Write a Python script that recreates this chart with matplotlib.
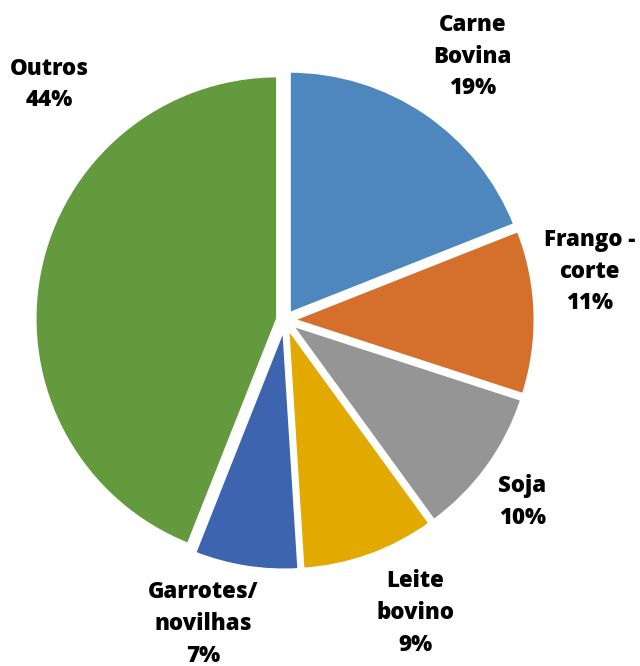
import numpy as np
import matplotlib
matplotlib.use('Agg')
import matplotlib.pyplot as plt

# DATA
categories = ['Carne\nBovina', 'Frango -\ncorte', 'Soja', 'Leite\nbovino', 'Garrotes/\nnovilhas', 'Outros']
shares = [19, 11, 10, 9, 7, 44]
colors = ['#4E87BE', '#D4702C', '#959595', '#E2A900', '#3D64AE', '#649A3E']

# label placement (angle in degrees, distance in radii) - picked by eye
label_angle = [54.5, 9.0, -37.5, -66, -105, 135]
label_dist = [1.33, 1.27, 1.23, 1.32, 1.295, 1.37]

fig = plt.figure(figsize=(6.4, 6.66), dpi=100)
ax = fig.add_axes([0, 0, 1, 1])

wedges, _ = ax.pie(shares, colors=colors, startangle=90, counterclock=False,
                   explode=[0.03] * len(shares), radius=1.0,
                   wedgeprops=dict(edgecolor='white', linewidth=2.5))

for lab, val, ang, d in zip(categories, shares, label_angle, label_dist):
    a = np.deg2rad(ang)
    ax.text(d * np.cos(a), d * np.sin(a), '{}\n{}%'.format(lab, val),
            ha='center', va='center', fontsize=16, fontweight=800,
            family='Open Sans', linespacing=1.42, color='black')

ax.set_xlim(-285 / 243, 355 / 243)
ax.set_ylim(-346 / 243, 320 / 243)
ax.set_aspect('equal')
ax.axis('off')

fig.savefig('out.png', dpi=100)
